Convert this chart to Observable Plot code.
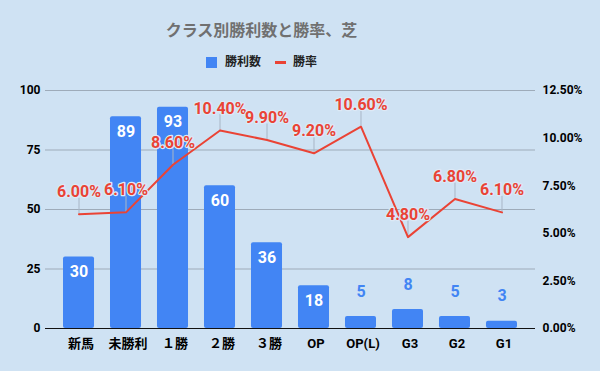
<!DOCTYPE html>
<html><head><meta charset="utf-8">
<script src="https://cdn.jsdelivr.net/npm/d3@7"></script>
<script src="https://cdn.jsdelivr.net/npm/@observablehq/plot@0.6"></script>
<style>
body{margin:0;background:#cfe2f3;}
#wrap{position:relative;width:600px;height:371px;background:#cfe2f3;font-family:Roboto,"Noto Sans CJK JP",sans-serif;overflow:hidden;}
#title{position:absolute;top:20px;left:0;width:523px;text-align:center;font-size:16px;font-weight:bold;color:#707070;line-height:22px;}
#legend{position:absolute;top:52px;left:206px;display:flex;align-items:center;font-size:12px;font-weight:bold;line-height:20px;color:#222;}
#legend .sq{width:11px;height:11px;background:#4285f4;margin-right:8px;}
#legend .dash{width:11px;height:3px;background:#ea4335;margin-left:14px;margin-right:7px;}
#chart{position:absolute;top:75px;left:0;}
</style>
</head><body>
<div id="wrap">
  <div id="title">クラス別勝利数と勝率、芝</div>
  <div id="legend"><span class="sq"></span><span>勝利数</span><span class="dash"></span><span>勝率</span></div>
  <div id="chart"></div>
</div>
<script>
const classes = ["新馬","未勝利","１勝","２勝","３勝","OP","OP(L)","G3","G2","G1"];
const wins = [30,89,93,60,36,18,5,8,5,3];
const rates = [6.0,6.1,8.6,10.4,9.9,9.2,10.6,4.8,6.8,6.1];
const leftTicks = [0,25,50,75,100];
const rightTicks = [0,2.5,5,7.5,10,12.5];
const winMax = 100, rateMax = 12.5;
const k = winMax / rateMax;

const data = classes.map((c,i)=>({cls:c, wins:wins[i], rate:rates[i]}));
const font = 'Roboto,"Noto Sans CJK JP",sans-serif';

const chart = Plot.plot({
  width:600, height:296,
  marginTop:15, marginBottom:43, marginLeft:45, marginRight:65,
  style:{background:"transparent", fontFamily:font, color:"#000", overflow:"visible"},
  x:{domain:classes, paddingInner:0.34, paddingOuter:0.383, round:false, label:null},
  y:{domain:[0,winMax], label:null},
  marks:[
    Plot.ruleY(leftTicks.slice(1), {stroke:"#9eabb9", strokeWidth:1}),
    Plot.barY(data, {x:"cls", y:"wins", fill:"#4285f4", rx:2}),
    Plot.ruleY([0], {stroke:"#111", strokeWidth:1.2}),
    Plot.axisY(leftTicks, {anchor:"left", tickSize:0, tickPadding:5, label:null, fontSize:12, fontWeight:"bold"}),
    Plot.axisY(rightTicks.map(v=>v*k), {anchor:"right", tickSize:0, tickPadding:7, label:null, fontSize:12, fontWeight:"bold", tickFormat:d=>(d/k).toFixed(2)+"%"}),
    Plot.axisX({tickSize:0, tickPadding:10, dx:2, label:null, fontSize:13, fontWeight:"bold"}),
    Plot.ruleX(data, {x:"cls", y1:d=>d.rate*k, y2:d=>d.rate*k, insetTop:-16, stroke:"#a8b6c6", strokeWidth:1}),
    Plot.line(data, {x:"cls", y:d=>d.rate*k, stroke:"#ea4335", strokeWidth:2}),
    Plot.text(data.filter(d=>d.wins>=10), {x:"cls", y:"wins", text:d=>String(d.wins), dy:15, fill:"#fff", fontSize:16, fontWeight:"bold"}),
    Plot.text(data.filter(d=>d.wins<10), {x:"cls", y:"wins", text:d=>String(d.wins), dy:-25, fill:"#4285f4", fontSize:16, fontWeight:"bold"}),
    Plot.text(data, {x:"cls", y:d=>d.rate*k, text:d=>d.rate.toFixed(2)+"%", dy:-22, fill:"#ea4335", stroke:"#dde9f6", strokeWidth:2.5, paintOrder:"stroke", fontSize:16, fontWeight:"bold"})
  ]
});
document.getElementById("chart").appendChild(chart);
</script>
</body></html>
